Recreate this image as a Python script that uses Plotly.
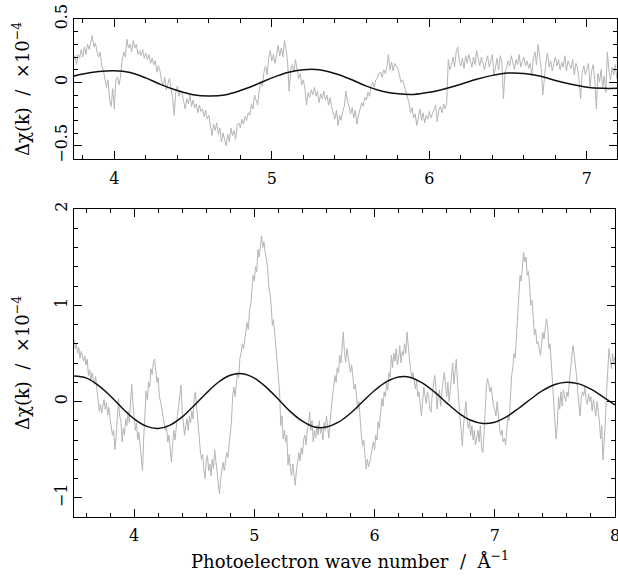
import numpy as np
import plotly.graph_objects as go

# ---------------- data ----------------
# top panel: measured residual (grey), sampled every 0.01 starting at k = 3.74
top_k_start = 3.74
top_k_step = 0.01
top_data = [
    0.17, 0.21, 0.14, 0.22, 0.19, 0.26,
    0.20, 0.28, 0.22, 0.30, 0.26, 0.33, 0.37, 0.28, 0.31, 0.24,
    0.20, 0.24, 0.13, 0.10, 0.03, -0.04, 0.02, -0.14, -0.19, -0.05,
    -0.21, 0.02, 0.04, -0.02, 0.05, 0.18, 0.24, 0.20, 0.34, 0.27,
    0.30, 0.24, 0.33, 0.27, 0.30, 0.22, 0.25, 0.21, 0.26, 0.19,
    0.23, 0.18, 0.22, 0.15, 0.19, 0.14, 0.17, 0.08, 0.13, 0.09,
    0.01, -0.03, 0.04, -0.06, -0.01, 0.03, -0.05, -0.12, -0.26, -0.08,
    -0.03, -0.11, -0.06, -0.09, -0.15, -0.21, -0.13, -0.17, -0.10, -0.19,
    -0.14, -0.20, -0.17, -0.24, -0.18, -0.23, -0.21, -0.27, -0.22, -0.29,
    -0.26, -0.35, -0.42, -0.33, -0.38, -0.32, -0.41, -0.36, -0.47, -0.40,
    -0.45, -0.50, -0.41, -0.47, -0.36, -0.42, -0.38, -0.45, -0.34, -0.32,
    -0.36, -0.29, -0.33, -0.27, -0.30, -0.24, -0.26, -0.17, -0.21, -0.10,
    -0.14, -0.18, -0.06, 0.00, -0.03, 0.08, 0.13, 0.06, 0.19, 0.25,
    0.17, 0.22, 0.15, 0.24, 0.29, 0.21, 0.27, 0.20, 0.33, 0.26,
    0.16, -0.07, 0.10, 0.14, 0.08, 0.18, 0.09, 0.03, 0.07, -0.02,
    0.02, -0.05, -0.18, -0.08, -0.12, -0.06, -0.10, -0.04, -0.11, -0.07,
    -0.16, -0.09, -0.13, -0.07, -0.14, -0.10, -0.18, -0.12, -0.20, -0.24,
    -0.29, -0.22, -0.34, -0.26, -0.30, -0.23, -0.19, -0.07, -0.15, -0.19,
    -0.25, -0.20, -0.28, -0.22, -0.33, -0.26, -0.21, -0.16, -0.19, -0.12,
    -0.14, -0.08, -0.11, -0.03, 0.00, -0.04, 0.02, 0.03, 0.07, 0.08,
    0.04, 0.10, 0.07, 0.12, 0.22, 0.10, 0.16, 0.09, 0.15, 0.13,
    0.11, 0.06, 0.00, 0.02, -0.03, -0.06, -0.12, -0.16, -0.24, -0.20,
    -0.28, -0.25, -0.34, -0.27, -0.21, -0.30, -0.24, -0.32, -0.26, -0.29,
    -0.23, -0.28, -0.25, -0.21, -0.18, -0.31, -0.22, -0.19, -0.24, -0.17,
    -0.21, -0.16, 0.18, 0.10, 0.14, 0.20, 0.12, 0.24, 0.28, 0.17,
    0.13, 0.19, 0.11, 0.21, 0.15, 0.22, 0.16, 0.12, 0.20, 0.14,
    0.25, 0.18, 0.13, 0.20, 0.15, 0.10, 0.16, 0.21, 0.12, 0.18,
    0.22, 0.05, 0.14, 0.19, 0.10, 0.21, 0.16, -0.13, 0.08, 0.11,
    0.17, 0.13, 0.21, 0.15, 0.10, 0.18, 0.14, 0.22, 0.12, 0.17,
    0.20, 0.13, 0.17, 0.11, 0.15, 0.05, 0.19, 0.24, 0.14, 0.30,
    0.18, 0.11, -0.10, 0.07, 0.16, 0.23, 0.12, 0.17, 0.09, 0.15,
    0.20, 0.13, 0.18, 0.10, 0.16, 0.12, 0.21, 0.09, 0.17, 0.14,
    0.11, 0.18, 0.06, 0.15, 0.12, 0.02, -0.13, 0.08, 0.13, 0.06,
    0.11, 0.15, -0.03, 0.09, 0.14, 0.02, -0.21, 0.07, 0.00, 0.10,
    -0.04, 0.05, -0.08, 0.24, 0.09, 0.02, 0.12, 0.06, 0.14, 0.03,
    0.08,
]
# top panel: fitted curve (black), sampled every 0.1 from k = 3.7
top_fit_k = [3.7, 3.8, 3.9, 4.0, 4.1, 4.2, 4.3, 4.4, 4.5, 4.6, 4.7, 4.8, 4.9,
             5.0, 5.1, 5.2, 5.3, 5.4, 5.5, 5.6, 5.7, 5.8, 5.9, 6.0, 6.1, 6.2,
             6.3, 6.4, 6.5, 6.6, 6.7, 6.8, 6.9, 7.0, 7.1, 7.2]
top_fit = [0.035, 0.065, 0.085, 0.092, 0.078, 0.035, -0.02, -0.065, -0.097,
           -0.108, -0.10, -0.065, -0.018, 0.035, 0.078, 0.10, 0.10, 0.07,
           0.025, -0.03, -0.07, -0.09, -0.095, -0.078, -0.05, -0.015, 0.025,
           0.055, 0.073, 0.07, 0.05, 0.015, -0.015, -0.038, -0.047, -0.047]

# bottom panel: measured residual (grey), sampled every 0.01 starting at k = 3.50
bot_k_start = 3.50
bot_k_step = 0.01
bot_data = [
    0.65, 0.55, 0.60, 0.50, 0.56, 0.45, 0.52, 0.48, 0.42, 0.47,
    0.38, 0.44, 0.27, 0.33, 0.22, 0.30, 0.25, 0.18, 0.26, 0.15,
    0.05, -0.10, -0.03, -0.12, -0.05, 0.02, -0.08, -0.01, -0.14, -0.06,
    -0.18, -0.25, -0.35, -0.30, -0.50, -0.38, -0.22, 0.03, -0.15, -0.20,
    -0.42, -0.28, -0.35, -0.18, -0.25, -0.10, -0.22, -0.05, 0.18, -0.02,
    -0.15, -0.30, -0.22, -0.40, -0.32, -0.45, -0.60, -0.72, -0.38, -0.15,
    0.11, 0.02, 0.20, 0.15, 0.34, 0.28, 0.40, 0.44, 0.30, 0.20,
    0.25, 0.05, 0.00, -0.08, -0.15, -0.21, -0.30, -0.25, -0.42, -0.35,
    -0.50, -0.63, -0.45, -0.30, -0.40, -0.25, -0.15, -0.05, 0.05, 0.17,
    -0.10, -0.20, -0.35, -0.25, -0.18, -0.30, -0.15, -0.22, -0.10, -0.18,
    0.05, 0.10, -0.05, -0.25, -0.40, -0.50, -0.60, -0.55, -0.70, -0.80,
    -0.62, -0.56, -0.72, -0.65, -0.77, -0.60, -0.70, -0.50, -0.62, -0.75,
    -0.85, -0.96, -0.80, -0.70, -0.63, -0.72, -0.60, -0.53, -0.58, -0.45,
    -0.35, -0.20, 0.06, 0.15, 0.05, 0.20, 0.30, 0.25, 0.45, 0.51,
    0.60, 0.55, 0.65, 0.70, 0.82, 0.75, 0.95, 1.00, 1.15, 1.31,
    1.25, 1.40, 1.35, 1.58, 1.50, 1.65, 1.72, 1.60, 1.66, 1.55,
    1.48, 1.40, 1.20, 1.13, 1.00, 0.79, 0.85, 0.69, 0.55, 0.40,
    0.27, 0.10, -0.25, -0.15, -0.39, -0.30, -0.42, -0.35, -0.66, -0.55,
    -0.70, -0.77, -0.65, -0.80, -0.87, -0.72, -0.60, -0.53, -0.62, -0.48,
    -0.55, -0.40, -0.35, -0.45, -0.30, -0.25, -0.11, -0.30, -0.20, -0.42,
    -0.30, -0.38, -0.25, -0.35, -0.20, -0.33, -0.28, -0.40, -0.22, -0.30,
    -0.15, -0.25, -0.38, -0.20, -0.05, 0.05, 0.15, 0.27, 0.20, 0.35,
    0.30, 0.48, 0.40, 0.55, 0.72, 0.50, 0.41, 0.55, 0.45, 0.35,
    0.30, 0.38, 0.25, 0.13, 0.18, 0.05, -0.08, 0.00, -0.20, -0.35,
    -0.46, -0.40, -0.55, -0.70, -0.60, -0.68, -0.63, -0.55, -0.48, -0.42,
    -0.50, -0.35, -0.40, -0.21, -0.28, -0.10, 0.03, -0.05, 0.10, 0.05,
    0.20, 0.12, 0.30, 0.25, 0.48, 0.35, 0.50, 0.42, 0.55, 0.38,
    0.45, 0.58, 0.40, 0.52, 0.48, 0.60, 0.50, 0.72, 0.55, 0.45,
    0.34, 0.25, 0.30, 0.18, 0.13, 0.22, 0.05, 0.10, -0.05, -0.15,
    0.00, 0.15, 0.06, -0.02, 0.10, 0.05, -0.08, -0.11, 0.08, 0.20,
    0.27, 0.15, -0.08, 0.05, 0.12, -0.05, 0.10, 0.22, 0.30, 0.15,
    0.05, 0.20, 0.00, 0.12, 0.25, 0.40, 0.18, 0.30, 0.44, 0.20,
    -0.05, -0.15, -0.30, -0.46, -0.25, -0.10, 0.00, -0.18, -0.28, -0.20,
    -0.35, -0.25, -0.40, -0.30, -0.45, -0.38, -0.30, -0.42, -0.25, -0.48,
    -0.53, -0.35, -0.10, 0.15, 0.24, 0.18, 0.10, 0.15, 0.05, -0.05,
    -0.08, -0.15, 0.00, -0.20, -0.28, -0.35, -0.30, -0.42, -0.38, -0.45,
    -0.30, -0.15, -0.20, 0.05, 0.27, 0.35, 0.50, 0.45, 0.69, 0.85,
    1.05, 1.31, 1.25, 1.41, 1.55, 1.45, 1.50, 1.31, 1.35, 1.20,
    1.00, 1.05, 0.85, 0.69, 0.75, 0.60, 0.62, 0.55, 0.48, 0.60,
    0.72, 0.65, 0.80, 0.86, 0.78, 0.55, 0.60, 0.40, 0.25, 0.10,
    -0.10, -0.39, -0.25, 0.05, -0.08, 0.10, -0.05, 0.12, 0.06, 0.00,
    0.10, 0.05, 0.20, 0.35, 0.45, 0.58, 0.50, 0.40, 0.27, 0.10,
    0.00, -0.15, 0.05, 0.10, 0.06, 0.15, 0.02, -0.03, 0.08, 0.00,
    0.05, -0.10, 0.02, -0.05, -0.15, 0.00, -0.08, -0.20, -0.39, -0.25,
    -0.61, -0.45, -0.20, 0.10, 0.35, 0.55, 0.45, 0.34, 0.50, 0.40,
    0.47,
]
# bottom panel: fitted curve (black), sampled every 0.1 from k = 3.5
bot_fit_k = [3.5, 3.6, 3.7, 3.8, 3.9, 4.0, 4.1, 4.2, 4.3, 4.4, 4.5, 4.6, 4.7,
             4.8, 4.9, 5.0, 5.1, 5.2, 5.3, 5.4, 5.5, 5.6, 5.7, 5.8, 5.9, 6.0,
             6.1, 6.2, 6.3, 6.4, 6.5, 6.6, 6.7, 6.8, 6.9, 7.0, 7.1, 7.2, 7.3,
             7.4, 7.5, 7.6, 7.7, 7.8, 7.9, 8.0]
bot_fit = [0.265, 0.245, 0.17, 0.06, -0.067, -0.18, -0.256, -0.28, -0.245,
           -0.16, -0.041, 0.085, 0.20, 0.273, 0.288, 0.243, 0.147, 0.023,
           -0.105, -0.205, -0.265, -0.265, -0.215, -0.122, -0.003, 0.114,
           0.206, 0.255, 0.25, 0.19, 0.097, -0.014, -0.12, -0.195, -0.228,
           -0.215, -0.157, -0.07, 0.026, 0.115, 0.177, 0.20, 0.183, 0.128,
           0.049, -0.036]

top_xticks = [4, 5, 6, 7]
top_yticks = [-0.5, 0, 0.5]
top_yticklabels = ["\u22120.5", "0", "0.5"]
bot_xticks = [4, 5, 6, 7, 8]
bot_yticks = [-1, 0, 1, 2]
bot_yticklabels = ["\u22121", "0", "1", "2"]

NB = "\u00a0"
y_title = "\u0394\u03c7(k)" + NB * 2 + "/" + NB * 2 + "\u00d710<sup>\u22124</sup>"
x_title = "Photoelectron wave number" + NB * 2 + "/" + NB * 2 + "\u00c5<sup>\u22121</sup>"

# ---------------- figure ----------------
W, H = 618, 576
FONT = "DejaVu Serif"
GREY = "#b5b5b5"

top_k = np.round(top_k_start + top_k_step * np.arange(len(top_data)), 3)
bot_k = np.round(bot_k_start + bot_k_step * np.arange(len(bot_data)), 3)

fig = go.Figure()
fig.add_trace(go.Scatter(x=top_k, y=top_data, mode="lines",
                         line=dict(color=GREY, width=1), xaxis="x", yaxis="y",
                         showlegend=False, hoverinfo="skip"))
fig.add_trace(go.Scatter(x=top_fit_k, y=top_fit, mode="lines",
                         line=dict(color="#111111", width=1.5, shape="spline"),
                         xaxis="x", yaxis="y", showlegend=False))
fig.add_trace(go.Scatter(x=bot_k, y=bot_data, mode="lines",
                         line=dict(color=GREY, width=1), xaxis="x2", yaxis="y2",
                         showlegend=False, hoverinfo="skip"))
fig.add_trace(go.Scatter(x=bot_fit_k, y=bot_fit, mode="lines",
                         line=dict(color="#111111", width=1.5, shape="spline"),
                         xaxis="x2", yaxis="y2", showlegend=False))


def px(x):
    return x / W


def py(y):
    return 1 - y / H


axis_common = dict(showline=True, linecolor="black", linewidth=1, mirror="ticks",
                   ticks="inside", ticklen=8, tickcolor="black", tickwidth=1,
                   showgrid=False, zeroline=False, automargin=False,
                   ticklabeloverflow="allow",
                   tickfont=dict(family=FONT, size=16, color="black"))

fig.update_layout(
    width=W, height=H,
    margin=dict(l=0, r=0, t=0, b=0, autoexpand=False),
    paper_bgcolor="white", plot_bgcolor="white",
    font=dict(family=FONT, size=17, color="black"),
    xaxis=dict(domain=[px(74), px(617)], range=[3.744, 7.191], anchor="y",
               tickmode="array", tickvals=top_xticks, ticklabelstandoff=5,
               minor=dict(dtick=0.2, ticks="inside", ticklen=4, tickcolor="black",
                          showgrid=False),
               **axis_common),
    yaxis=dict(domain=[py(159), py(19)], range=[-0.605, 0.5], anchor="x",
               tickmode="array", tickvals=top_yticks, ticktext=top_yticklabels,
               tickangle=-90,
               minor=dict(dtick=0.1, ticks="inside", ticklen=4, tickcolor="black",
                          showgrid=False),
               **axis_common),
    xaxis2=dict(domain=[px(74), px(615)], range=[3.5, 8.0], anchor="y2",
                tickmode="array", tickvals=bot_xticks, ticklabelstandoff=4,
                minor=dict(dtick=0.2, ticks="inside", ticklen=4, tickcolor="black",
                           showgrid=False),
                **axis_common),
    yaxis2=dict(domain=[py(517), py(209)], range=[-1.2, 2.0], anchor="x2",
                tickmode="array", tickvals=bot_yticks, ticktext=bot_yticklabels,
                tickangle=-90,
                minor=dict(dtick=0.2, ticks="inside", ticklen=4, tickcolor="black",
                           showgrid=False),
                **axis_common),
)

fig.add_annotation(text=y_title, xref="paper", yref="paper",
                   x=px(21), y=py(89), textangle=-90, showarrow=False,
                   xanchor="center", yanchor="middle",
                   font=dict(family=FONT, size=18, color="black"))
fig.add_annotation(text=y_title, xref="paper", yref="paper",
                   x=px(21), y=py(363), textangle=-90, showarrow=False,
                   xanchor="center", yanchor="middle",
                   font=dict(family=FONT, size=18, color="black"))
fig.add_annotation(text=x_title, xref="paper", yref="paper",
                   x=px(350), y=py(560), showarrow=False,
                   xanchor="center", yanchor="middle",
                   font=dict(family=FONT, size=18, color="black"))

# remove the default 8px page margin so the figure fills the window exactly
fig.write_html(
    "out.html",
    config={"displayModeBar": False},
    post_script="document.body.style.margin='0';"
                "document.body.style.overflow='hidden';"
                "document.documentElement.style.overflow='hidden';",
)
